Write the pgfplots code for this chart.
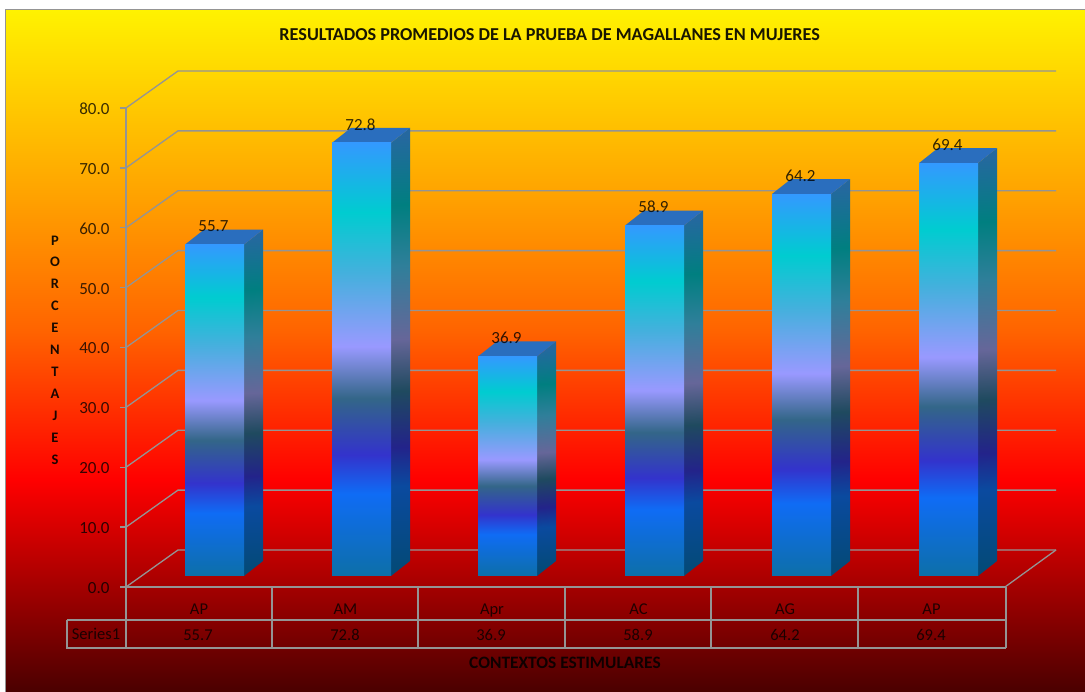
\documentclass[border=0pt]{standalone}
\usepackage{fontspec}
\usepackage{pgfplots}
\pgfplotsset{compat=1.18}
\setmainfont{Carlito}
\definecolor{gridc}{HTML}{949494}
\definecolor{topc}{HTML}{2A6EBE}
\definecolor{bgA}{HTML}{4A0000}\definecolor{bgB}{HTML}{FF0000}\definecolor{bgC}{HTML}{FFF200}
\definecolor{bgD}{HTML}{FF6400}\definecolor{bgE}{HTML}{FFA000}
\pgfdeclareverticalshading{bgshade}{100bp}{color(0bp)=(bgA);
  color(25bp)=(bgA); color(40.55bp)=(bgB); color(51.55bp)=(bgD); color(61.05bp)=(bgE); color(75bp)=(bgC); color(100bp)=(bgC)}
\definecolor{fa}{HTML}{0D6FA8}\definecolor{fb}{HTML}{0F6CF5}\definecolor{fc}{HTML}{3333CC}
\definecolor{fd}{HTML}{336688}\definecolor{fe}{HTML}{9999FF}\definecolor{ff}{HTML}{44B0DD}
\definecolor{fg}{HTML}{00CCD0}\definecolor{fh}{HTML}{3399FF}
\definecolor{sa}{HTML}{044A78}\definecolor{sb}{HTML}{0A4A9F}\definecolor{sc}{HTML}{23238A}
\definecolor{sd}{HTML}{1F4A5F}\definecolor{se}{HTML}{666699}\definecolor{sf}{HTML}{2F7F9A}
\definecolor{sg}{HTML}{007F80}\definecolor{sh}{HTML}{25689F}
\pgfdeclareverticalshading{barfront}{100bp}{color(0bp)=(fa); color(25bp)=(fa); color(34.5bp)=(fb);
  color(39bp)=(fc); color(45.5bp)=(fd); color(51.5bp)=(fe); color(60bp)=(ff); color(67bp)=(fg);
  color(75bp)=(fh); color(100bp)=(fh)}
\pgfdeclareverticalshading{barside}{100bp}{color(0bp)=(sa); color(25bp)=(sa); color(34.5bp)=(sb);
  color(39bp)=(sc); color(45.5bp)=(sd); color(51.5bp)=(se); color(60bp)=(sf); color(67bp)=(sg);
  color(75bp)=(sh); color(100bp)=(sh)}
% x left, x right, x back, value, value + depth, shading angle of the side, x left back
\newcommand{\threedbar}[7]{%
  \addplot[draw=none, shade, shading=barside, shading angle=#6] coordinates {(#2,0) (#3,2.52) (#3,#5) (#2,#4)} --cycle;
  \addplot[draw=none, fill=topc] coordinates {(#1,#4) (#2,#4) (#3,#5) (#7,#5)} --cycle;
  \addplot[draw=none, shade, shading=barfront] coordinates {(#1,0) (#2,0) (#2,#4) (#1,#4)} --cycle;
}
\newcommand{\wall}[2]{\addplot[gridc, line width=1.3pt] coordinates {(126,#1) (178,#2) (1056,#2)};}
\begin{document}
\begin{tikzpicture}[x=1pt,y=1pt]
\useasboundingbox (-126,-105) rectangle (959,587);
\fill[white] (-126,-105) rectangle (959,587);
\shade[shading=bgshade] (-120,-105) rectangle (959,577);
\draw[gridc, line width=1pt] (-120,-105) -- (-120,577) -- (959,577);
\begin{axis}[
  at={(0,0)}, anchor=south west,
  scale only axis, width=879pt, height=479pt,
  xmin=126, xmax=1005, ymin=0, ymax=80,
  clip=false,
  axis x line*=bottom, axis y line*=left,
  axis line style={draw=gridc, line width=1.3pt, -},
  font=\fontsize{16}{19}\selectfont,
  xtick={199,345.5,492,638.5,785,931.5},
  xticklabels={AP,AM,Apr,AC,AG,AP},
  xtick style={draw=none},
  xticklabel style={anchor=center, text height=11pt, text depth=3pt, yshift=-18pt, text opacity=0.78, font=\fontsize{16.5}{19}\selectfont},
  ytick={0,10,...,80},
  ytick style={draw=gridc, line width=1.3pt},
  tick align=outside, major tick length=6pt,
  yticklabel style={/pgf/number format/fixed, /pgf/number format/fixed zerofill,
    /pgf/number format/precision=1, /pgf/number format/assume math mode=true,
    text opacity=0.78, font=\fontsize{17}{20}\selectfont, xshift=-7pt, yshift=-1pt},
  title={RESULTADOS PROMEDIOS DE LA PRUEBA DE MAGALLANES EN MUJERES},
  title style={at={(0.482,1.1405)}, anchor=center, font=\fontsize{18.2}{21}\selectfont\bfseries, text opacity=0.9},
  xlabel={CONTEXTOS ESTIMULARES},
  every axis x label/.style={at={(0.4994,-0.1587)}, anchor=center, font=\fontsize{17.4}{20}\selectfont\bfseries, text opacity=0.85},
  ylabel={P\\O\\R\\C\\E\\N\\T\\A\\J\\E\\S},
  every axis y label/.style={at={(-0.0808,0.495)}, anchor=center, align=center,
    font=\fontsize{14.5}{21.9}\selectfont\bfseries, text opacity=0.9},
]
\wall{0}{6.18}\wall{10}{16.18}\wall{20}{26.18}\wall{30}{36.18}\wall{40}{46.18}
\wall{50}{56.18}\wall{60}{66.18}\wall{70}{76.18}\wall{80}{86.18}
\addplot[gridc, line width=1.3pt] coordinates {(1056,6.18) (1005,0)};
% data table below the plot
\addplot[gridc, line width=1.3pt] coordinates {(67,-5.51) (1006,-5.51)};
\addplot[gridc, line width=1.3pt] coordinates {(67,-5.51) (67,-10.19) (1006,-10.19)};
\addplot[gridc, line width=1.3pt] coordinates {(126,0) (126,-10.19)};
\addplot[gridc, line width=1.3pt] coordinates {(272,0) (272,-10.19)};
\addplot[gridc, line width=1.3pt] coordinates {(418,0) (418,-10.19)};
\addplot[gridc, line width=1.3pt] coordinates {(565,0) (565,-10.19)};
\addplot[gridc, line width=1.3pt] coordinates {(711,0) (711,-10.19)};
\addplot[gridc, line width=1.3pt] coordinates {(858,0) (858,-10.19)};
\addplot[gridc, line width=1.3pt] coordinates {(1006,0) (1006,-10.19)};
\begin{scope}[every node/.style={text opacity=0.78, font=\fontsize{16.5}{19}\selectfont}]
\node at (axis cs:96,-7.75) {Series1};
\node at (axis cs:198,-8.0) {55.7};
\node at (axis cs:345,-8.0) {72.8};
\node at (axis cs:491,-8.0) {36.9};
\node at (axis cs:638,-8.0) {58.9};
\node at (axis cs:785,-8.0) {64.2};
\node at (axis cs:931,-8.0) {69.4};
\end{scope}
\end{axis}
\begin{axis}[
  at={(0,0)}, anchor=south west,
  scale only axis, width=879pt, height=479pt,
  xmin=126, xmax=1005, ymin=-1.849, ymax=78.66,
  hide axis, clip=false,
  font=\fontsize{16}{19}\selectfont,
]
\threedbar{185}{244}{263}{55.7}{58.22}{2.59}{204}
\threedbar{332}{391}{410}{72.8}{75.32}{1.98}{351}
\threedbar{478}{537}{556}{36.9}{39.42}{3.91}{497}
\threedbar{625}{684}{703}{58.9}{61.42}{2.45}{644}
\threedbar{772}{831}{850}{64.2}{66.72}{2.25}{791}
\threedbar{919}{978}{997}{69.4}{71.92}{2.08}{938}
\addplot[draw=none, mark=none, point meta=y,
  nodes near coords,
  every node near coord/.append style={anchor=center, yshift=18.5pt, xshift=-1pt, text opacity=0.8,
    font=\fontsize{17}{20}\selectfont,
    /pgf/number format/fixed, /pgf/number format/fixed zerofill,
    /pgf/number format/precision=1, /pgf/number format/assume math mode=true}]
  coordinates {(214.5,55.7) (361.5,72.8) (507.5,36.9) (654.5,58.9) (801.5,64.2) (948.5,69.4)};
\end{axis}
\end{tikzpicture}
\end{document}
